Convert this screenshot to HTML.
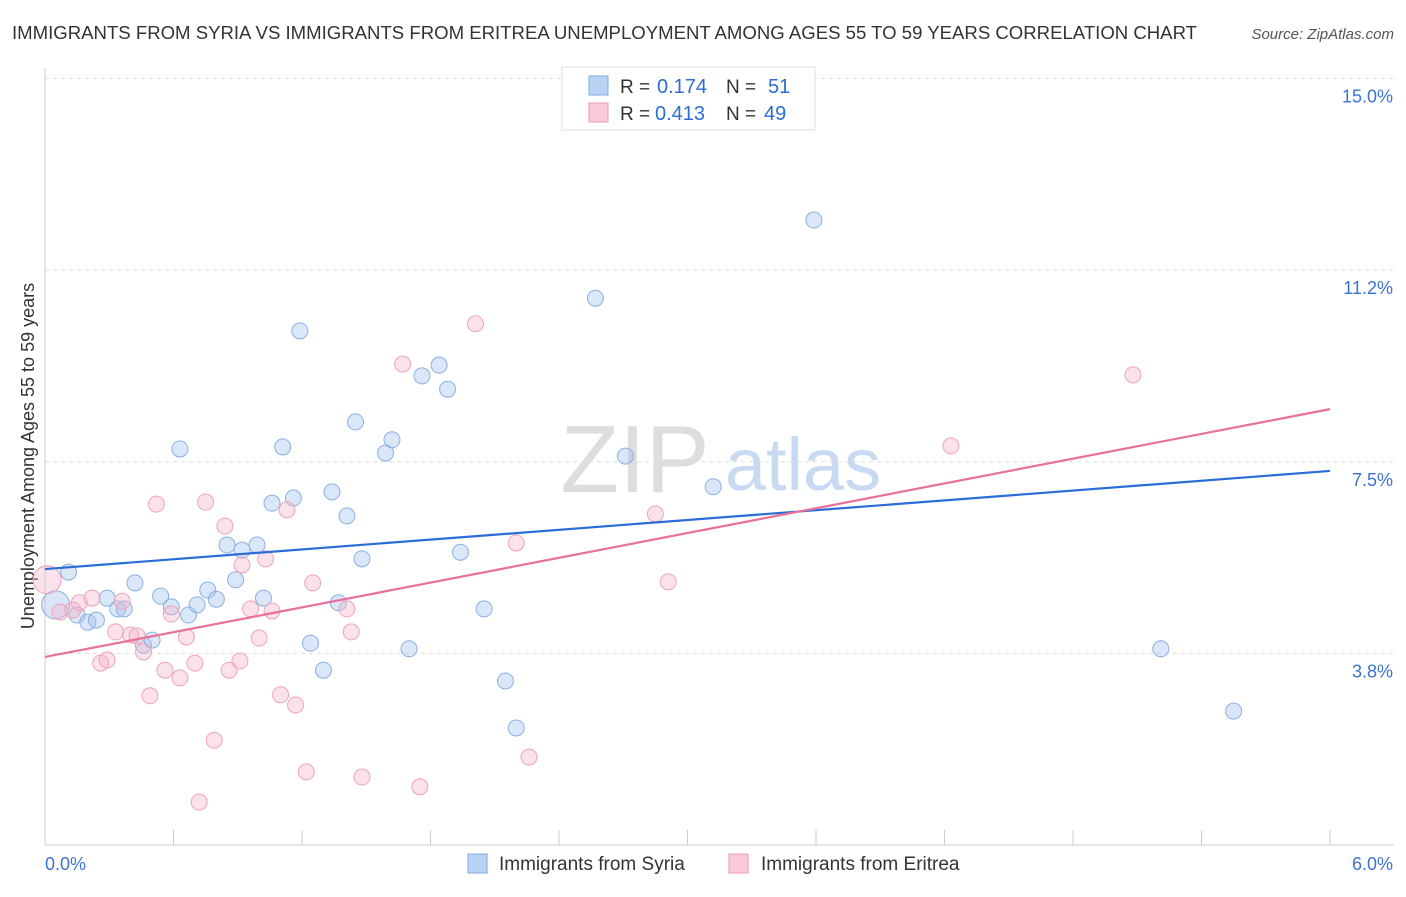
<!DOCTYPE html>
<html><head><meta charset="utf-8"><style>
body{margin:0;background:#fff;font-family:"Liberation Sans",sans-serif;}
svg text{font-family:"Liberation Sans",sans-serif;}
</style></head><body>
<svg id="chart" width="1406" height="892">
<text x="12" y="39" font-size="18" fill="#333" textLength="1185" lengthAdjust="spacingAndGlyphs">IMMIGRANTS FROM SYRIA VS IMMIGRANTS FROM ERITREA UNEMPLOYMENT AMONG AGES 55 TO 59 YEARS CORRELATION CHART</text>
<text x="1394" y="39" font-size="15" fill="#555" text-anchor="end" font-style="italic">Source: ZipAtlas.com</text>
<text x="635" y="492" font-size="96" fill="#ddd" font-family="Liberation Serif" text-anchor="middle">ZIP</text>
<text x="803" y="490" font-size="74" fill="#c8daf2" text-anchor="middle">atlas</text>
<text transform="translate(34,456) rotate(-90)" font-size="18" fill="#333" text-anchor="middle">Unemployment Among Ages 55 to 59 years</text>
<g id="grid"></g><g id="pts"></g><g id="lines"></g>
<g>
<rect x="562" y="67" width="253" height="63" fill="#fff" stroke="#ddd"/>
<rect x="589" y="76" width="19" height="19" fill="#b9d3f5" stroke="#7fa9e0"/>
<rect x="589" y="103" width="19" height="19" fill="#f9c9d9" stroke="#eb9ab5"/>
<text x="620" y="93" font-size="19" fill="#333">R =</text><text x="657" y="93" font-size="20" fill="#2a6dd6">0.174</text>
<text x="726" y="93" font-size="19" fill="#333">N =</text><text x="768" y="93" font-size="20" fill="#2a6dd6">51</text>
<text x="620" y="120" font-size="19" fill="#333">R =</text><text x="655" y="120" font-size="20" fill="#2a6dd6">0.413</text>
<text x="726" y="120" font-size="19" fill="#333">N =</text><text x="764" y="120" font-size="20" fill="#2a6dd6">49</text>
</g>
<g>
<rect x="468" y="854" width="19" height="19" fill="#b9d3f5" stroke="#7fa9e0"/>
<text x="499" y="870" font-size="19" fill="#333">Immigrants from Syria</text>
<rect x="729" y="854" width="19" height="19" fill="#f9c9d9" stroke="#eb9ab5"/>
<text x="761" y="870" font-size="19" fill="#333">Immigrants from Eritrea</text>
</g>
</svg>
<script>
const yTicks=[3.75,7.5,11.25,15];
const yTickLabels=["3.8%","7.5%","11.2%","15.0%"];
const xTickLabels=["0.0%","6.0%"];
const syriaX=[0.05,0.11,0.15,0.20,0.24,0.29,0.34,0.37,0.42,0.46,0.50,0.54,0.59,0.63,0.67,0.71,0.76,0.80,0.85,0.89,0.92,0.99,1.02,1.06,1.11,1.16,1.19,1.24,1.30,1.34,1.37,1.41,1.45,1.48,1.59,1.62,1.70,1.76,1.84,1.88,1.94,2.05,2.15,2.20,2.57,2.71,3.12,3.59,5.21,5.55];
const syriaY=[4.70,5.34,4.50,4.36,4.40,4.83,4.62,4.62,5.13,3.91,4.01,4.87,4.66,7.75,4.50,4.70,4.99,4.81,5.87,5.19,5.77,5.87,4.83,6.69,7.79,6.79,10.06,3.95,3.42,6.91,4.74,6.44,8.28,5.60,7.67,7.93,3.84,9.18,9.39,8.92,5.73,4.62,3.21,2.29,10.70,7.61,7.01,12.23,3.84,2.62];
const eritreaX=[0.01,0.07,0.13,0.16,0.22,0.26,0.29,0.33,0.36,0.40,0.43,0.46,0.49,0.52,0.56,0.59,0.63,0.66,0.70,0.72,0.75,0.79,0.84,0.86,0.91,0.92,0.96,1.00,1.03,1.06,1.10,1.13,1.17,1.22,1.25,1.41,1.43,1.48,1.67,1.75,2.01,2.20,2.26,2.85,2.91,4.23,5.08];
const eritreaY=[5.19,4.56,4.60,4.74,4.83,3.56,3.62,4.17,4.77,4.11,4.09,3.78,2.92,6.67,3.42,4.52,3.27,4.07,3.56,0.84,6.71,2.05,6.24,3.42,3.60,5.48,4.62,4.05,5.60,4.58,2.94,6.56,2.74,1.43,5.13,4.62,4.17,1.33,9.41,1.14,10.20,5.91,1.72,6.48,5.15,7.81,9.20];
const syriaTrend=[5.40,7.32];
const eritreaTrend=[3.68,8.53];
const X=v=>45+v*214.17, Y=v=>845-v*51.1;
const NS="http://www.w3.org/2000/svg";
function mk(t,a,p){const e=document.createElementNS(NS,t);for(const k in a)e.setAttribute(k,a[k]);p.appendChild(e);return e;}
const grid=document.getElementById('grid');
yTicks.forEach((v,i)=>{
 const l=mk('line',{x1:45,x2:1394,y1:Y(v),y2:Y(v),stroke:'#ddd','stroke-dasharray':'4,4'},grid);
 
 
 const t=mk('text',{x:1393,y:Y(v)+24,'font-size':18,fill:'#3b73d0','text-anchor':'end'},grid);t.textContent=yTickLabels[i];
 
 
});
mk('line',{x1:45,x2:1394,y1:845,y2:845,stroke:'#ccc'},grid);
mk('line',{x1:45,x2:45,y1:68,y2:845,stroke:'#ccc'},grid);
for(let i=0;i<=10;i++){const x=X(i*0.6);const l=mk('line',{x1:x,x2:x,y1:830,y2:845,stroke:'#ccc'},grid);
 
 }
let t=mk('text',{x:45,y:870,'font-size':18,fill:'#3b73d0'},grid);t.textContent=xTickLabels[0];


t=mk('text',{x:1393,y:870,'font-size':18,fill:'#3b73d0','text-anchor':'end'},grid);t.textContent=xTickLabels[1];


const pts=document.getElementById('pts');
function series(xs,ys,fill,stroke,name){xs.forEach((x,i)=>{
 const c=mk('circle',{cx:X(x),cy:Y(ys[i]),r:i===0?14:8,fill:fill,stroke:stroke,'stroke-width':1},pts);
 
 });}
series(syriaX,syriaY,'rgba(160,196,240,0.4)','#8ab0e2','syria-point');
series(eritreaX,eritreaY,'rgba(245,180,200,0.4)','#eea3bc','eritrea-point');
const lines=document.getElementById('lines');
let ln=mk('line',{x1:X(0),x2:X(6),y1:Y(syriaTrend[0]),y2:Y(syriaTrend[1]),stroke:'#2a6dd6','stroke-width':2.2},lines);


ln=mk('line',{x1:X(0),x2:X(6),y1:Y(eritreaTrend[0]),y2:Y(eritreaTrend[1]),stroke:'#e8709a','stroke-width':2.2},lines);


</script>
</body></html>
